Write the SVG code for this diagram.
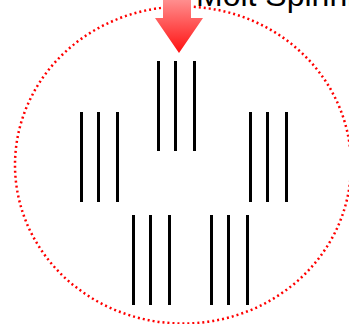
<svg xmlns="http://www.w3.org/2000/svg" width="349" height="324" viewBox="0 0 349 324">
<style>
.bar{fill:#000}
.ring{fill:none;stroke:#ff0000;stroke-width:2.5;stroke-dasharray:2 3}
.lbl{font-family:"Liberation Sans",Arial,sans-serif;font-size:32px;fill:#000}
</style>
<defs>
<linearGradient id="ag" x1="0" y1="0" x2="0" y2="1">
<stop offset="0" stop-color="#ff9a9a"/>
<stop offset="1" stop-color="#ff1010"/>
</linearGradient>
</defs>
<rect width="349" height="324" fill="#fff"/>
<ellipse id="ring" class="ring" cx="183" cy="165" rx="168" ry="158.5"/>
<g id="arrow"><path d="M163,-5 L191,-5 L191,18 L203,18 L179,53 L155,18 L163,18 Z" fill="url(#ag)"/></g>
<text id="title" class="lbl" x="196" y="6">Molt Spinning</text>
<g id="top">
<rect class="bar" x="157" y="61" width="3" height="90"/>
<rect class="bar" x="174" y="61" width="3" height="90"/>
<rect class="bar" x="193" y="61" width="3" height="90"/>
</g>
<g id="left">
<rect class="bar" x="80" y="112" width="3" height="90"/>
<rect class="bar" x="97" y="112" width="3" height="90"/>
<rect class="bar" x="116" y="112" width="3" height="90"/>
</g>
<g id="right">
<rect class="bar" x="249" y="112" width="3" height="90"/>
<rect class="bar" x="266" y="112" width="3" height="90"/>
<rect class="bar" x="285" y="112" width="3" height="90"/>
</g>
<g id="bottom-left">
<rect class="bar" x="132" y="215" width="3" height="90"/>
<rect class="bar" x="149" y="215" width="3" height="90"/>
<rect class="bar" x="168" y="215" width="3" height="90"/>
</g>
<g id="bottom-right">
<rect class="bar" x="210" y="215" width="3" height="90"/>
<rect class="bar" x="227" y="215" width="3" height="90"/>
<rect class="bar" x="246" y="215" width="3" height="90"/>
</g>
<g id="connectors"></g>
</svg>
